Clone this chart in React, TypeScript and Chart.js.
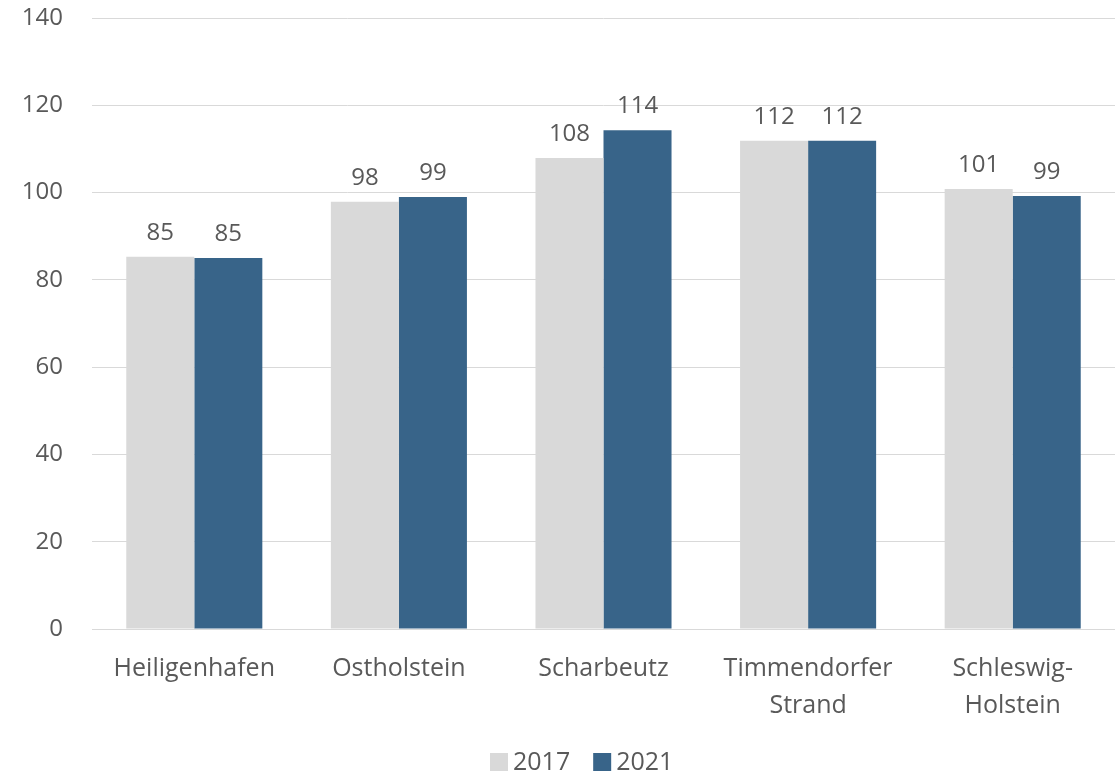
import React, { useEffect, useRef } from "react";
import { Chart, registerables } from "chart.js";

Chart.register(...registerables);

const categories: (string | string[])[] = [
  "Heiligenhafen",
  "Ostholstein",
  "Scharbeutz",
  ["Timmendorfer", "Strand"],
  ["Schleswig-", "Holstein"],
];
const values2017 = [85.3, 97.9, 107.9, 111.9, 100.8];
const values2021 = [85.0, 99.0, 114.3, 111.9, 99.2];
const seriesLabels = ["2017", "2021"];
const seriesColors = ["#d9d9d9", "#386489"];
const yTicks = [0, 20, 40, 60, 80, 100, 120, 140];

const FONT = "'Open Sans', 'Noto Sans', sans-serif";
const TEXT = "#595959";

const dataLabelPlugin = {
  id: "dataLabels",
  afterDatasetsDraw(chart: any) {
    const ctx = chart.ctx;
    ctx.save();
    ctx.font = `24px ${FONT}`;
    ctx.fillStyle = TEXT;
    ctx.textAlign = "center";
    ctx.textBaseline = "alphabetic";
    chart.data.datasets.forEach((ds: any, i: number) => {
      const meta = chart.getDatasetMeta(i);
      meta.data.forEach((bar: any, j: number) => {
        const v = ds.data[j];
        ctx.fillText(String(Math.round(v)), bar.x, bar.y - 17);
      });
    });
    ctx.restore();
  },
};

const customLegendPlugin = {
  id: "customLegend",
  afterDraw(chart: any) {
    const ctx = chart.ctx;
    ctx.save();
    ctx.font = `25px ${FONT}`;
    ctx.textBaseline = "middle";
    ctx.textAlign = "left";
    const cy = 762;
    let x = 490;
    chart.data.datasets.forEach((ds: any) => {
      ctx.fillStyle = ds.backgroundColor;
      ctx.fillRect(x, cy - 9, 18, 18);
      x += 18 + 5;
      ctx.fillStyle = TEXT;
      ctx.fillText(ds.label, x, cy + 1);
      x += ctx.measureText(ds.label).width + 23;
    });
    ctx.restore();
  },
};

export default function App() {
  const ref = useRef<HTMLCanvasElement>(null);
  useEffect(() => {
    if (!ref.current) return;
    const chart = new Chart(ref.current, {
      type: "bar",
      data: {
        labels: categories,
        datasets: [
          {
            label: seriesLabels[0],
            data: values2017,
            backgroundColor: seriesColors[0],
            categoryPercentage: 0.665,
            barPercentage: 1,
          },
          {
            label: seriesLabels[1],
            data: values2021,
            backgroundColor: seriesColors[1],
            categoryPercentage: 0.665,
            barPercentage: 1,
          },
        ],
      },
      options: {
        responsive: false,
        animation: false,
        layout: { padding: { top: 18, right: 0, left: 0, bottom: 28 } },
        plugins: {
          legend: { display: false },
          tooltip: { enabled: false },
        },
        scales: {
          x: {
            grid: { display: false },
            border: { display: true, color: "#d9d9d9", width: 1 },
            afterFit: (scale: any) => {
              scale.height = 119;
              scale.paddingTop = 0;
              scale.paddingBottom = 0;
              scale.paddingLeft = 0;
              scale.paddingRight = 0;
            },
            ticks: {
              color: TEXT,
              font: { family: FONT, size: 25, lineHeight: 1.5 },
              padding: 13,
              maxRotation: 0,
              autoSkip: false,
            },
          },
          y: {
            min: 0,
            max: 140,
            afterBuildTicks: (scale: any) => {
              scale.ticks = yTicks.map((v) => ({ value: v }));
            },
            afterFit: (scale: any) => {
              scale.width = 92;
              scale.paddingTop = 0;
              scale.paddingBottom = 0;
            },
            grid: { color: "#d9d9d9", lineWidth: 1, drawTicks: false },
            border: { display: false },
            ticks: {
              color: TEXT,
              font: { family: FONT, size: 24 },
              padding: 29,
            },
          },
        },
      },
      plugins: [dataLabelPlugin, customLegendPlugin],
    });
    return () => chart.destroy();
  }, []);
  return (
    <div style={{ position: "fixed", left: 0, top: 0, width: 1115, height: 776, background: "#fff" }}>
      <canvas ref={ref} width={1115} height={776} style={{ display: "block" }} />
    </div>
  );
}
